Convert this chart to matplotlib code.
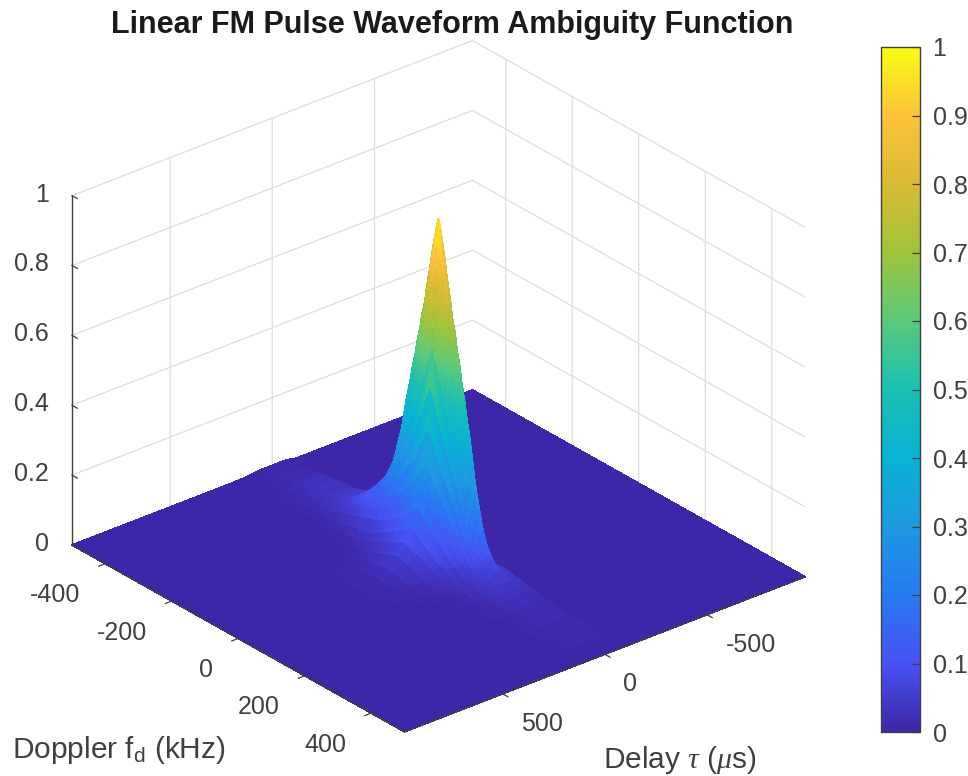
import numpy as np
import matplotlib
matplotlib.use("Agg")
import matplotlib.pyplot as plt
from matplotlib.colors import LinearSegmentedColormap, Normalize
from matplotlib.cm import ScalarMappable
from mpl_toolkits.mplot3d import proj3d

plt.rcParams['font.family'] = ['Liberation Sans', 'DejaVu Sans']
plt.rcParams['mathtext.fontset'] = 'custom'
plt.rcParams['mathtext.rm'] = 'Liberation Sans'
plt.rcParams['mathtext.it'] = 'Liberation Serif:italic'

TITLE = "Linear FM Pulse Waveform Ambiguity Function"
doppler_ticks = [-400, -200, 0, 200, 400]
delay_ticks = [-500, 0, 500]
z_ticks = [0, 0.2, 0.4, 0.6, 0.8, 1]
z_labels = ['0', '0.2', '0.4', '0.6', '0.8', '1']
cbar_ticks = [0, .1, .2, .3, .4, .5, .6, .7, .8, .9, 1]
cbar_labels = ['0', '0.1', '0.2', '0.3', '0.4', '0.5', '0.6', '0.7', '0.8', '0.9', '1']

# Doppler samples (kHz)
doppler_khz = [-500, -450, -400, -350, -300, -270, -240, -220, -200, -180, -160, -150, -140, -130, -120, -110,
               -100, -95, -90, -85, -80, -75, -70, -65, -60, -55, -50, -45, -40, -35, -30, -25, -20, -15, -10, -5,
               0,
               5, 10, 15, 20, 25, 30, 35, 40, 45, 50, 55, 60, 65, 70, 75, 80, 85, 90, 95, 100,
               110, 120, 130, 140, 150, 160, 180, 200, 220, 240, 270, 300, 350, 400, 450, 500]
# main blade: height along Doppler
blade_doppler = [0, 0, 0, 0, 0, 0, 0, 0, .005, .02, .04, .06, .09, .13, .19, .25,
                 .33, .37, .40, .43, .47, .50, .53, .57, .60, .63, .67, .70, .73, .77, .80, .83, .87, .90, .93, .96,
                 .98,
                 .96, .93, .90, .87, .83, .80, .77, .73, .70, .67, .63, .60, .57, .53, .50, .47, .43, .40, .37, .33,
                 .25, .19, .13, .09, .06, .04, .02, .005, 0, 0, 0, 0, 0, 0, 0, 0]
# low band that runs on to the Doppler edges
band_doppler = [.006, .01, .018, .03, .035, .045, .06, .075, .09, .105, .115, .115, .11, .10, .09, .075,
                .06, .05, .045, .04, .035, .03, .025, .02, .015, .012, .008, 0, 0, 0, 0, 0, 0, 0, 0, 0,
                0,
                0, 0, 0, 0, 0, 0, 0, 0, 0, .008, .01, .012, .014, .016, .018, .02, .022, .024, .026, .028,
                .032, .036, .04, .044, .048, .048, .044, .04, .032, .026, .02, .016, .012, .01, .006, 0]
# delay samples (us) and the cross-sections of blade and band
delay_us = [-980, -400, -200, -130, -105, -90, -70, -50, -40, -30, -25, -20, -15, -10, -5,
            0,
            5, 10, 15, 20, 25, 30, 40, 50, 60, 70, 80, 100, 130, 160, 200, 250, 300, 400, 600, 980]
blade_delay = [0, 0, 0, .005, .01, .015, .03, .08, .15, .28, .38, .5, .65, .8, .9,
               1,
               .94, .88, .82, .76, .70, .64, .52, .40, .30, .26, .23, .18, .13, .09, .055, .03, .015, .005, 0, 0]
band_delay = [0, 0, 0, 0, 0, .6, .9, 1, 1, 1, 1, 1, 1, 1, 1,
              1,
              1, 1, 1, 1, 1, 1, 1, 1, .9, .8, .7, .5, .25, .1, .03, 0, 0, 0, 0, 0]

parula_colors = [(.2422, .1504, .6603), (.2810, .3228, .9579), (.1540, .4800, .9500),
                 (.1150, .6000, .8800), (.0300, .7000, .8300), (.1000, .7500, .7000),
                 (.3500, .7900, .4800), (.6200, .7700, .2300), (.8500, .7300, .2000),
                 (.9900, .7600, .2300), (.9769, .9839, .0805)]
parula = LinearSegmentedColormap.from_list('parula', parula_colors, N=256)

W, H = 968, 776
TXT = '#404040'
fig = plt.figure(figsize=(W / 100, H / 100), dpi=100, facecolor='white')
ax = fig.add_axes([0.1, 0.1, 0.8, 0.8 * W / H], projection='3d', proj_type='ortho')
ax.set_box_aspect((1, 1, 0.7588))
ax.view_init(elev=27.8, azim=-39.7)
ax.patch.set_alpha(0)
ax.computed_zorder = False

D, T = np.meshgrid(doppler_khz, delay_us, indexing='ij')
Z = np.outer(blade_doppler, blade_delay) + np.outer(band_doppler, band_delay)
norm = Normalize(0, 1)
surf = ax.plot_surface(D, T, Z, cmap=parula, norm=norm, rstride=1, cstride=1,
                       linewidth=0.5, antialiased=False, shade=False, zorder=1)
surf.set_edgecolor('face')

# front edges of the box, on top of the surface
ax.plot([-500, 500], [980, 980], [0, 0], color=TXT, lw=1.0, zorder=3)
ax.plot([500, 500], [980, -980], [0, 0], color=TXT, lw=1.0, zorder=3)
ax.set_xlim(-500, 500, view_margin=0)
ax.set_ylim(980, -980, view_margin=0)
ax.set_zlim(0, 1, view_margin=0)

ax.set_xticks(doppler_ticks)
ax.set_xticklabels([str(v) for v in doppler_ticks], ha='right', va='center')
ax.set_yticks(delay_ticks)
ax.set_yticklabels([str(v) for v in delay_ticks], ha='left', va='center')
ax.set_zticks(z_ticks)
ax.set_zticklabels(z_labels, ha='right', va='center')
ax.zaxis.set_ticks_position('upper')
ax.tick_params(axis='x', labelsize=18, colors=TXT, pad=11)
ax.tick_params(axis='y', labelsize=18, colors=TXT, pad=9)
ax.tick_params(axis='z', labelsize=18, colors=TXT, pad=1.5)

for a in (ax.xaxis, ax.yaxis, ax.zaxis):
    a.set_pane_color((1, 1, 1, 0))
    a.pane.set_edgecolor('none')
    a.line.set_color(TXT)
    a.line.set_linewidth(1.0)
    a._axinfo['grid'].update(color='#dedede', linewidth=0.9)
    a._axinfo['tick'].update(inward_factor=0.2, outward_factor=0.0,
                             linewidth={True: 0.9, False: 0.5}, color=TXT)

# place the box so that its corners sit where the reference has them
def corner_px(x, y, z):
    fig.canvas.draw()
    px, py, _ = proj3d.proj_transform(x, y, z, ax.get_proj())
    return ax.transData.transform((px, py))

pos = ax.get_position()
c_left = corner_px(-500, 980, 0)
c_right = corner_px(500, -980, 0)
span = abs(c_right[0] - c_left[0])
scale = 733 / span
side = pos.width * W * scale
ax.set_position([pos.x0, pos.y0, side / W, side / H])
c_left = corner_px(-500, 980, 0)
ax.set_position([pos.x0 + (72 - c_left[0]) / W, pos.y0 + (231 - c_left[1]) / H, side / W, side / H])

fig.text(452 / W, 1 - 25.5 / H, TITLE, ha='center', va='center', fontsize=22, fontweight='bold', color='#1a1a1a')
fig.text(12 / W, 1 - 750 / H, 'Doppler f$_{\\mathrm{d}}$ (kHz)', ha='left', va='center', fontsize=21.5, color=TXT)
fig.text(603 / W, 1 - 760 / H, 'Delay $\\mathit{\\tau}$ ($\\mathit{\\mu}$s)', ha='left', va='center', fontsize=21.5, color=TXT)

cax = fig.add_axes([881 / W, 1 - 732 / H, 39 / W, 685 / H])
cb = fig.colorbar(ScalarMappable(norm=norm, cmap=parula), cax=cax, ticks=cbar_ticks)
cb.ax.set_yticklabels(cbar_labels)
cb.ax.tick_params(direction='in', length=6, width=0.9, color=TXT, labelcolor=TXT, labelsize=18, pad=9)
cb.outline.set_edgecolor(TXT)
cb.outline.set_linewidth(1.0)

fig.savefig('out.png', dpi=100)
